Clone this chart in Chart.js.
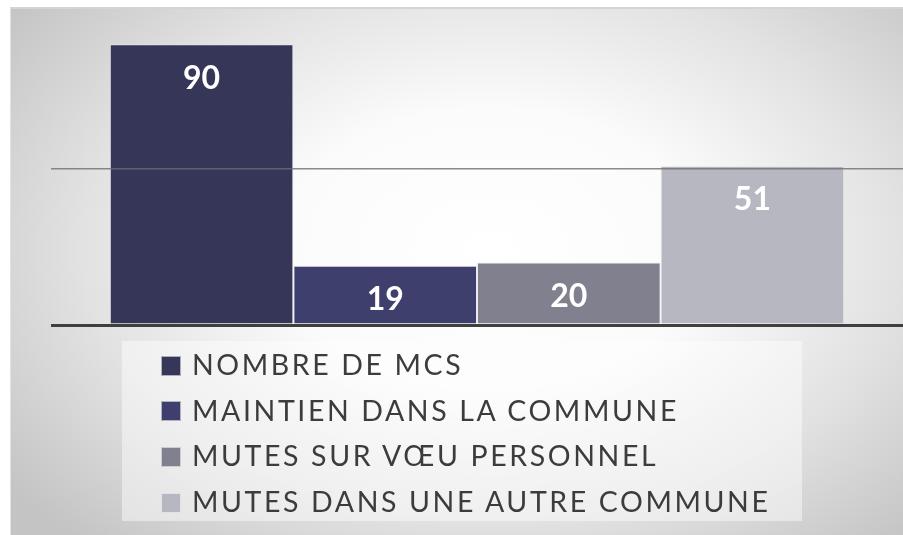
<!DOCTYPE html>
<html>
<head>
<meta charset="utf-8">
<script src="https://cdn.jsdelivr.net/npm/chart.js@4"></script>
<style>
  html, body { margin: 0; padding: 0; background: #fff; }
  #wrap { position: relative; width: 903px; height: 535px; overflow: hidden; }
  #frame {
    position: absolute; left: 10px; top: 7px; width: 893px; height: 528px;
    border-left: 1px solid #e2e2e2; border-top: 2px solid #d4d4d4;
    background: radial-gradient(ellipse 600px 400px at 480px 240px, #ffffff 0%, #fbfbfb 35%, #e2e2e2 68%, #c4c4c4 100%);
  }
  #chart { position: absolute; left: 0; top: 0; }
  #legend {
    position: absolute; left: 122px; top: 341px; width: 680px; height: 180px;
    background: rgba(255,255,255,0.45);
    font-family: Lato, "Open Sans", sans-serif; font-size: 28.5px; color: #3c3c3c;
    letter-spacing: 2.6px;
  }
  #legend ul { list-style: none; margin: 0; padding: 0; }
  #legend li { position: absolute; left: 39px; height: 46px; line-height: 46px; white-space: nowrap; }
  #legend li span.box {
    display: inline-block; width: 18px; height: 18px; border: 1px solid rgba(255,255,255,0.6);
    vertical-align: middle; margin-right: 11px; position: relative; top: -2px;
  }
</style>
</head>
<body>
<div id="wrap">
  <div id="frame"></div>
  <canvas id="chart" width="903" height="535"></canvas>
  <div id="legend"></div>
</div>
<script>
const categories = [''];
const seriesNames = ['NOMBRE DE MCS', 'MAINTIEN DANS LA COMMUNE', 'MUTES SUR VŒU PERSONNEL', 'MUTES DANS UNE AUTRE COMMUNE'];
const seriesValues = [90, 19, 20, 51];
const seriesColors = ['#363659', '#3e3f6d', '#80808f', '#b6b7c1'];
const yTicks = [0, 50, 100];

// labels blancs dans les barres
const barLabels = {
  id: 'barLabels',
  afterDatasetsDraw(chart) {
    const ctx = chart.ctx;
    ctx.save();
    ctx.fillStyle = '#ffffff';
    ctx.font = 'bold 32px Lato, "Open Sans", sans-serif';
    ctx.textAlign = 'center';
    ctx.textBaseline = 'middle';
    chart.data.datasets.forEach((ds, i) => {
      const bar = chart.getDatasetMeta(i).data[0];
      ctx.fillText(String(ds.data[0]), bar.x, bar.y + 34);
    });
    ctx.restore();
  }
};

const ctx = document.getElementById('chart');
const chart = new Chart(ctx, {
  type: 'bar',
  data: {
    labels: categories,
    datasets: seriesNames.map((name, i) => ({
      label: name,
      data: [seriesValues[i]],
      backgroundColor: seriesColors[i],
      borderColor: 'rgba(230,230,236,0.8)',
      borderWidth: 1,
      categoryPercentage: 0.862,
      barPercentage: 1
    }))
  },
  options: {
    responsive: false,
    animation: false,
    layout: { padding: { left: 51, right: 0, top: 13, bottom: 210 } },
    plugins: {
      legend: { display: false },
      tooltip: { enabled: false }
    },
    scales: {
      x: { display: false },
      y: {
        min: 0, max: 100,
        afterBuildTicks: (scale) => { scale.ticks = yTicks.map(v => ({ value: v })); },
        ticks: { display: false },
        border: { display: false },
        grid: {
          drawTicks: false,
          z: 1,
          color: (c) => c.tick.value === 0 ? '#3f3f3f' : (c.tick.value === 50 ? 'rgba(110,110,110,0.8)' : 'rgba(0,0,0,0)'),
          lineWidth: (c) => c.tick.value === 0 ? 3 : 1.5
        }
      }
    }
  },
  plugins: [barLabels]
});

// légende HTML
const ul = document.createElement('ul');
chart.data.datasets.forEach((ds, i) => {
  const li = document.createElement('li');
  li.style.top = (i * 45.7) + 'px';
  const box = document.createElement('span');
  box.className = 'box';
  box.style.background = ds.backgroundColor;
  li.appendChild(box);
  li.appendChild(document.createTextNode(ds.label));
  ul.appendChild(li);
});
document.getElementById('legend').appendChild(ul);
</script>
</body>
</html>
